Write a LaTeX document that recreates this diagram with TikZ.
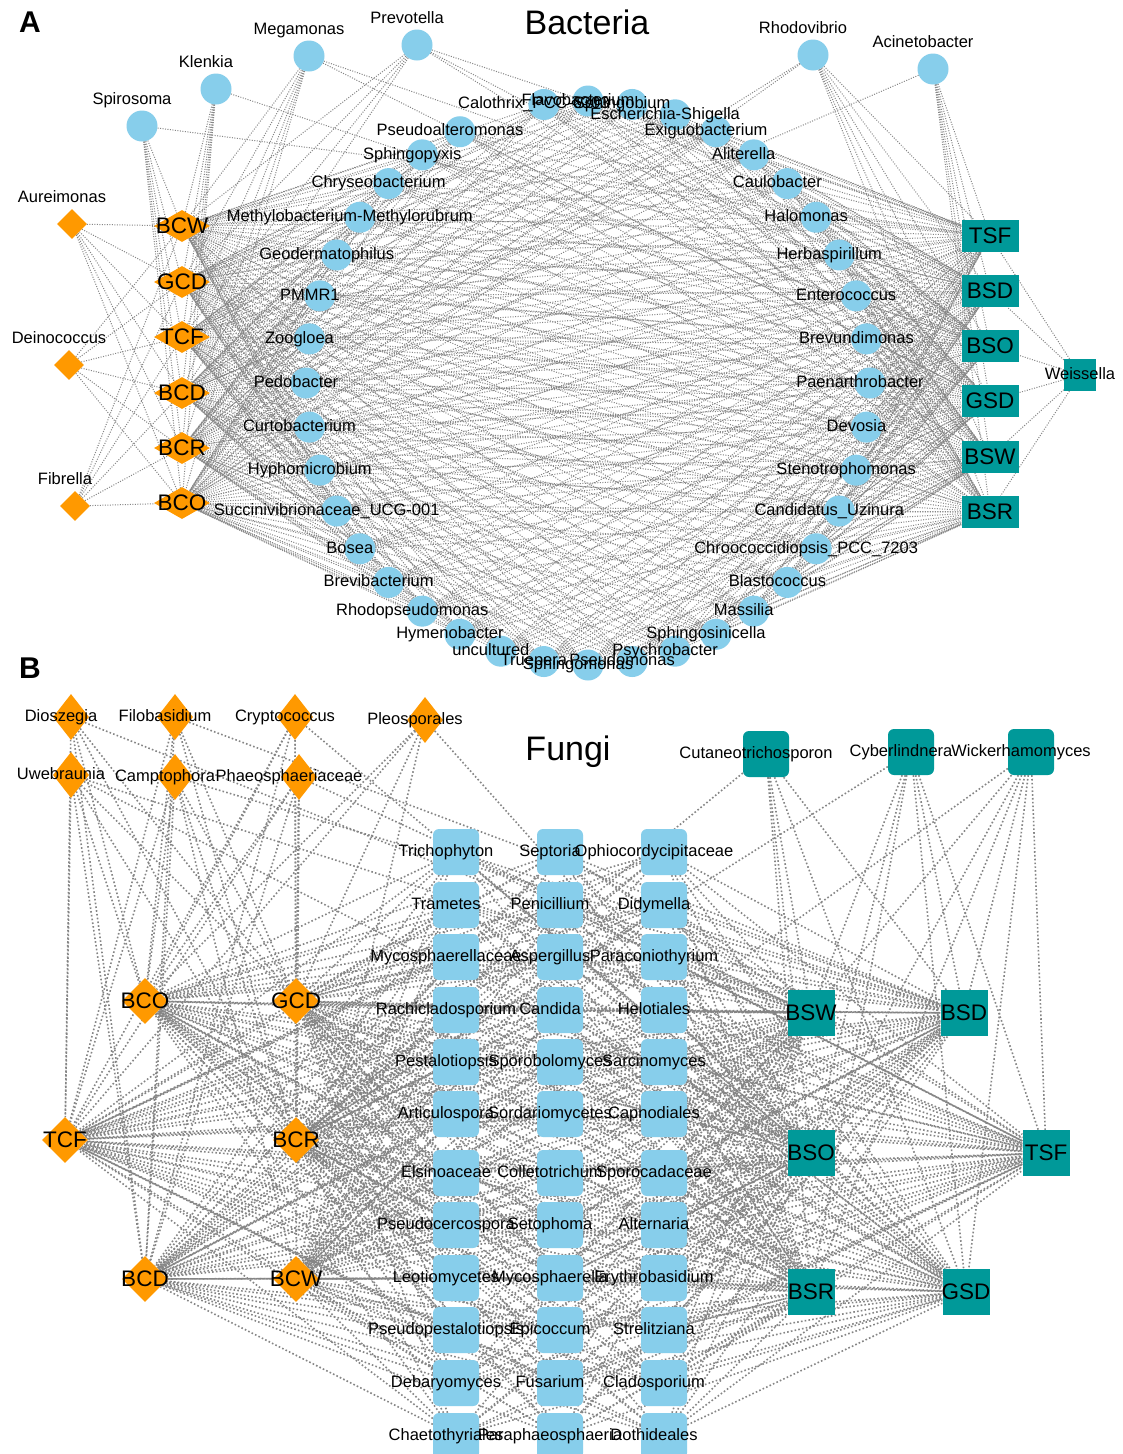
\documentclass[tikz,border=0pt]{standalone}
\usepackage{fontspec}
\setmainfont{Liberation Sans}
\usetikzlibrary{shapes.geometric,backgrounds,positioning}

\definecolor{hubOrange}{HTML}{FF9900}
\definecolor{hubTeal}{HTML}{009999}
\definecolor{taxBlue}{HTML}{87CEEB}
\definecolor{edgeGray}{HTML}{858585}

\newcommand{\ringTaxa}{0/Paenarthrobacter, 9/Brevundimonas, 18/Enterococcus, 27/Herbaspirillum, 36/Halomonas, 45/Caulobacter, 54/Aliterella, 63/Exiguobacterium, 72/Escherichia-Shigella, 81/Sphingobium, 90/Flavobacterium, 99/Calothrix\_PCC-6303, 117/Pseudoalteromonas, 126/Sphingopyxis, 135/Chryseobacterium, 144/Methylobacterium-Methylorubrum, 153/Geodermatophilus, 162/PMMR1, 171/Zoogloea, 180/Pedobacter, 189/Curtobacterium, 198/Hyphomicrobium, 207/Succinivibrionaceae\_UCG-001, 216/Bosea, 225/Brevibacterium, 234/Rhodopseudomonas, 243/Hymenobacter, 252/uncultured, 261/Truepera, 270/Sphingomonas, 279/Pseudomonas, 288/Psychrobacter, 297/Sphingosinicella, 306/Massilia, 315/Blastococcus, 324/Chroococcidiopsis\_PCC\_7203, 333/Candidatus\_Uzinura, 342/Stenotrophomonas, 351/Devosia}
\newcommand{\bactHubs}{a_bcw,a_gcd,a_tcf,a_bcd,a_bcr,a_bco,a_tsf,a_bsd,a_bso,a_gsd,a_bsw,a_bsr}
\newcommand{\fungRows}{852/Trichophyton/Septoria/Ophiocordycipitaceae, 905/Trametes/Penicillium/Didymella, 957/Mycosphaerellaceae/Aspergillus/Paraconiothyrium, 1010/Rachicladosporium/Candida/Helotiales, 1062/Pestalotiopsis/Sporobolomyces/Sarcinomyces, 1114/Articulospora/Sordariomycetes/Capnodiales, 1173/Elsinoaceae/Colletotrichum/Sporocadaceae, 1225/Pseudocercospora/Setophoma/Alternaria, 1278/Leotiomycetes/Mycosphaerella/Erythrobasidium, 1330/Pseudopestalotiopsis/Epicoccum/Strelitziana, 1383/Debaryomyces/Fusarium/Cladosporium, 1436/Chaetothyriales/Paraphaeosphaeria/Dothideales}
\newcommand{\fungHubs}{b_bco,b_gcd,b_tcf,b_bcr,b_bcd,b_bcw,b_bsw,b_bsd,b_bso,b_tsf,b_bsr,b_gsd}

\begin{document}
\begin{tikzpicture}[
    x=1pt, y=-1pt,
    lbl/.style={font=\fontsize{16.5}{18}\selectfont, inner sep=0pt, text height=12pt, text depth=3.5pt, xshift=-10pt},
    hublbl/.style={font=\fontsize{22.5}{24}\selectfont, inner sep=0pt},
    title/.style={font=\fontsize{34}{38}\selectfont, inner sep=0pt},
    panel/.style={font=\fontsize{30}{32}\selectfont\bfseries, inner sep=0pt},
    taxon/.style={circle, fill=taxBlue, minimum size=31pt, inner sep=0pt},
    sidedia/.style={diamond, fill=hubOrange, minimum width=30pt, minimum height=30pt, inner sep=0pt},
    ohub/.style={diamond, fill=hubOrange, minimum width=56pt, minimum height=32pt, inner sep=0pt},
    thub/.style={rectangle, fill=hubTeal, minimum width=57pt, minimum height=32pt, inner sep=0pt},
    fdia/.style={diamond, fill=hubOrange, minimum width=36pt, minimum height=46pt, inner sep=0pt},
    fohub/.style={diamond, fill=hubOrange, minimum width=46pt, minimum height=46pt, inner sep=0pt},
    ftop/.style={rectangle, rounded corners=6pt, fill=hubTeal, minimum size=46pt, inner sep=0pt},
    fthub/.style={rectangle, fill=hubTeal, minimum width=47pt, minimum height=46pt, inner sep=0pt},
    fbox/.style={rectangle, rounded corners=6pt, fill=taxBlue, minimum size=46pt, inner sep=0pt},
    edgeA/.style={draw=edgeGray, line width=1pt, dash pattern=on 1pt off 1.5pt},
    edgeB/.style={draw=edgeGray, line width=1.6pt, dash pattern=on 1.6pt off 2.2pt}
]
\useasboundingbox (0,0) rectangle (1122,1454);

% ---------------- A: bacteria ----------------
\node[panel] (panel_a) at (30,22) {A};
\node[title] (title_a) at (587,22) {Bacteria};

\foreach \ang/\nm in \ringTaxa
  \node[taxon] (r\ang) at ({588+282*cos(\ang)},{383-282*sin(\ang)}) {};

\node[taxon] (spirosoma) at (142,126) {};
\node[taxon] (klenkia) at (216,89) {};
\node[taxon] (megamonas) at (309,56) {};
\node[taxon] (prevotella) at (417,45) {};
\node[taxon] (rhodovibrio) at (813,55) {};
\node[taxon] (acinetobacter) at (933,69) {};

\node[sidedia] (aureimonas) at (72,224) {};
\node[sidedia] (deinococcus) at (69,365) {};
\node[sidedia] (fibrella) at (75,506) {};

\node[ohub] (a_bcw) at (182,226) {};
\node[ohub] (a_gcd) at (182,282) {};
\node[ohub] (a_tcf) at (182,337) {};
\node[ohub] (a_bcd) at (182,393) {};
\node[ohub] (a_bcr) at (182,448) {};
\node[ohub] (a_bco) at (182,503) {};

\node[thub] (a_tsf) at (990,236) {};
\node[thub] (a_bsd) at (990,291) {};
\node[thub] (a_bso) at (990,346) {};
\node[thub] (a_gsd) at (990,401) {};
\node[thub] (a_bsw) at (990,457) {};
\node[thub] (a_bsr) at (990,512) {};
\node[thub, minimum width=32pt] (weissella) at (1080,375) {};

% labels on top of every shape
\foreach \ang/\nm in \ringTaxa
  \node[lbl] (r\ang-t) at (r\ang) {\nm};
\foreach \n/\txt in {spirosoma/Spirosoma, klenkia/Klenkia, megamonas/Megamonas, prevotella/Prevotella, rhodovibrio/Rhodovibrio, acinetobacter/Acinetobacter, aureimonas/Aureimonas, deinococcus/Deinococcus, fibrella/Fibrella}
  \node[lbl, above=2.5pt of \n] (\n-t) {\txt};
\node[lbl, xshift=10pt] (weissella-t) at (weissella) {Weissella};
\foreach \n/\txt in {a_bcw/BCW, a_gcd/GCD, a_tcf/TCF, a_bcd/BCD, a_bcr/BCR, a_bco/BCO, a_tsf/TSF, a_bsd/BSD, a_bso/BSO, a_gsd/GSD, a_bsw/BSW, a_bsr/BSR}
  \node[hublbl] (\n-t) at (\n) {\txt};

% ---------------- B: fungi ----------------
\node[panel] (panel_b) at (30,668) {B};
\node[title] (title_b) at (568,752) {Fungi};

\foreach \y/\p/\q/\s [count=\i] in \fungRows {
  \node[fbox] (fa\i) at (456,\y) {};
  \node[fbox] (fb\i) at (560,\y) {};
  \node[fbox] (fc\i) at (664,\y) {};
}

\node[fdia] (dioszegia) at (71,717) {};
\node[fdia] (filobasidium) at (175,717) {};
\node[fdia] (cryptococcus) at (295,717) {};
\node[fdia] (pleosporales) at (425,720) {};
\node[fdia] (uwebraunia) at (71,775) {};
\node[fdia] (camptophora) at (175,777) {};
\node[fdia] (phaeosph) at (299,777) {};

\node[fohub] (b_bco) at (145,1001) {};
\node[fohub] (b_gcd) at (296,1001) {};
\node[fohub] (b_tcf) at (65,1140) {};
\node[fohub] (b_bcr) at (296,1140) {};
\node[fohub] (b_bcd) at (145,1279) {};
\node[fohub] (b_bcw) at (296,1279) {};

\node[ftop] (cutaneo) at (766,754) {};
\node[ftop] (cyberl) at (911,752) {};
\node[ftop] (wickerh) at (1031,752) {};

\node[fthub] (b_bsw) at (811,1013) {};
\node[fthub] (b_bsd) at (964,1013) {};
\node[fthub] (b_bso) at (811,1153) {};
\node[fthub] (b_tsf) at (1046,1153) {};
\node[fthub] (b_bsr) at (811,1292) {};
\node[fthub] (b_gsd) at (966,1292) {};

\foreach \y/\p/\q/\s [count=\i] in \fungRows {
  \node[lbl] (fa\i-t) at (fa\i) {\p};
  \node[lbl] (fb\i-t) at (fb\i) {\q};
  \node[lbl] (fc\i-t) at (fc\i) {\s};
}
\foreach \n/\txt in {dioszegia/Dioszegia, filobasidium/Filobasidium, cryptococcus/Cryptococcus, pleosporales/Pleosporales, uwebraunia/Uwebraunia, camptophora/Camptophora, phaeosph/Phaeosphaeriaceae, cutaneo/Cutaneotrichosporon, cyberl/Cyberlindnera, wickerh/Wickerhamomyces}
  \node[lbl] (\n-t) at (\n) {\txt};
\foreach \n/\txt in {b_bco/BCO, b_gcd/GCD, b_tcf/TCF, b_bcr/BCR, b_bcd/BCD, b_bcw/BCW, b_bsw/BSW, b_bsd/BSD, b_bso/BSO, b_tsf/TSF, b_bsr/BSR, b_gsd/GSD}
  \node[hublbl] (\n-t) at (\n) {\txt};

% ---------------- connectors ----------------
\begin{scope}[on background layer]
\fill[white] (0,0) rectangle (1122,1454);

\foreach \ang/\nm in \ringTaxa
  \foreach \h in \bactHubs
    \draw[edgeA] (r\ang) -- (\h);

\foreach \s/\targets in {
    spirosoma/{a_bcw,a_gcd,a_tcf,a_bcd,a_bcr,a_bco,a_tsf},
    klenkia/{a_bcw,a_gcd,a_tcf,a_bcd,a_bcr,a_bco,a_bso},
    megamonas/{a_bcw,a_gcd,a_tcf,a_bcd,a_bcr,a_bco,a_gsd,a_bsd},
    prevotella/{a_bcw,a_gcd,a_tcf,a_bcd,a_tsf,a_gsd,a_bso},
    rhodovibrio/{a_bcr,a_bco,a_tsf,a_bsd,a_bso,a_gsd,a_bsw,a_bsr},
    acinetobacter/{a_bcd,a_tsf,a_bsd,a_bso,a_gsd,a_bsw,a_bsr},
    aureimonas/{a_bcw,a_gcd,a_tcf,a_bcd,a_bcr,a_bco},
    deinococcus/{a_bcw,a_gcd,a_tcf,a_bcd,a_bcr,a_bco},
    fibrella/{a_bcw,a_gcd,a_tcf,a_bcd,a_bcr,a_bco},
    weissella/{a_tsf,a_bsd,a_bso,a_gsd,a_bsw,a_bsr}}
  \foreach \t in \targets
    \draw[edgeA] (\s) -- (\t);

\foreach \i in {1,...,12}
  \foreach \c in {fa,fb,fc}
    \foreach \h in \fungHubs
      \draw[edgeB] (\c\i) -- (\h);

\foreach \s/\targets in {
    dioszegia/{b_tcf,b_bco,b_bcd,b_gcd,b_bcr,b_bsw},
    filobasidium/{b_bco,b_tcf,b_bcr,b_gcd,b_bcd,b_bsd},
    cryptococcus/{b_gcd,b_bco,b_tcf,b_bcr,b_bcd,b_bso},
    pleosporales/{b_gcd,b_bco,b_bcw,b_tcf,b_bso},
    uwebraunia/{b_tcf,b_bco,b_bcd,b_bcr,b_gcd,b_bsw,b_bso},
    camptophora/{b_bco,b_tcf,b_bcd,b_gcd,b_bcr,b_bcw,b_bsd},
    phaeosph/{b_gcd,b_bcr,b_bco,b_tcf,b_bcd,b_bcw,b_bsw},
    cutaneo/{b_bsw,b_bsd,b_bso,b_bsr,b_gsd,b_bcr},
    cyberl/{b_bsw,b_bsd,b_bso,b_gsd,b_tsf,b_bsr,b_bcr},
    wickerh/{b_bsw,b_bsd,b_bso,b_gsd,b_tsf,b_bsr,b_bcw}}
  \foreach \t in \targets
    \draw[edgeB] (\s) -- (\t);
\end{scope}

\end{tikzpicture}
\end{document}
